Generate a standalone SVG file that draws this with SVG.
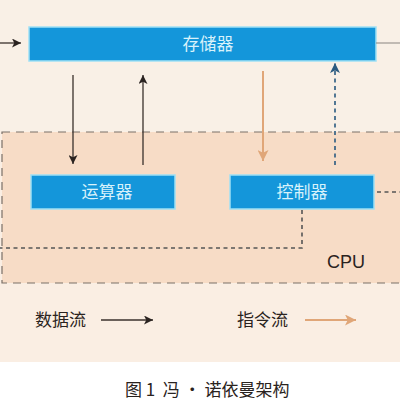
<svg xmlns="http://www.w3.org/2000/svg" width="400" height="400" viewBox="0 0 400 400">
  <defs>
    <marker id="ah-black" viewBox="0 0 10 10" refX="10" refY="5" markerWidth="9" markerHeight="9" markerUnits="userSpaceOnUse" orient="auto">
      <path d="M0,0 L10,5 L0,10 L2.5,5 Z" fill="#2a2320"/>
    </marker>
    <marker id="ah-orange" viewBox="0 0 10 10" refX="10" refY="5" markerWidth="11" markerHeight="11" markerUnits="userSpaceOnUse" orient="auto">
      <path d="M0,0 L10,5 L0,10 L2.5,5 Z" fill="#e0a678"/>
    </marker>
    <marker id="ah-blue" viewBox="0 0 10 10" refX="10" refY="5" markerWidth="10" markerHeight="10" markerUnits="userSpaceOnUse" orient="auto">
      <path d="M0,0 L10,5 L0,10 L2.5,5 Z" fill="#2a5a80"/>
    </marker>
  </defs>
  <style>
    .box { fill: #1496da; stroke: #9fe0f5; stroke-width: 1.5; }
    .boxtxt { font-family: "Noto Sans CJK SC", "Noto Sans", sans-serif; font-size: 17px; fill: #d8f2fb; text-anchor: middle; }
    .lbl { font-family: "Noto Sans CJK SC", "Noto Sans", sans-serif; font-size: 17px; fill: #2a2320; }
    .cpu { font-family: "Liberation Sans", Arial, sans-serif; font-size: 18px; fill: #2a2320; }
    .data { stroke: #3a302c; stroke-width: 1.3; fill: none; }
    .instr { stroke: #e0a678; stroke-width: 2; fill: none; }
    .ctrl { stroke: #555; stroke-width: 1.6; stroke-dasharray: 4 3.5; fill: none; }
    .ctrlblue { stroke: #2a5a80; stroke-width: 1.6; stroke-dasharray: 4 3.5; fill: none; }
  </style>
  <rect x="0" y="0" width="400" height="400" fill="#ffffff"/>
  <rect x="0" y="0" width="400" height="362" fill="#faeee3"/>
  <rect x="0" y="0" width="400" height="132" fill="#f9f0e6"/>
  <g id="cpu">
    <rect x="2" y="132" width="410" height="151" fill="#f7dcc6" stroke="#7a7068" stroke-width="1.2" stroke-dasharray="8 6"/>
    <text class="cpu" x="327" y="268">CPU</text>
  </g>
  <g id="memory">
    <rect class="box" x="29" y="27" width="347" height="34"/>
    <text class="boxtxt" x="208" y="50">存储器</text>
  </g>
  <g id="alu">
    <rect class="box" x="31" y="175" width="144" height="34"/>
    <text class="boxtxt" x="107" y="198">运算器</text>
  </g>
  <g id="controller">
    <rect class="box" x="230" y="175" width="144" height="34"/>
    <text class="boxtxt" x="302" y="198">控制器</text>
  </g>
  <g id="connectors">
    <line class="data" x1="0" y1="43" x2="21" y2="43" marker-end="url(#ah-black)"/>
    <line x1="376" y1="43" x2="400" y2="43" stroke="#8a8580" stroke-width="1"/>
    <line class="data" x1="73" y1="75" x2="73" y2="164" marker-end="url(#ah-black)"/>
    <line class="data" x1="143" y1="165" x2="143" y2="75" marker-end="url(#ah-black)"/>
    <line class="instr" x1="263" y1="71" x2="263" y2="161" marker-end="url(#ah-orange)"/>
    <line class="ctrlblue" x1="335" y1="165" x2="335" y2="63" marker-end="url(#ah-blue)"/>
    <line class="ctrl" x1="377" y1="192" x2="400" y2="192"/>
    <polyline class="ctrl" points="302,210 302,248 0,248"/>
  </g>
  <g id="legend">
    <text class="lbl" x="35" y="326">数据流</text>
    <line class="data" x1="101" y1="320" x2="153" y2="320" marker-end="url(#ah-black)"/>
    <text class="lbl" x="237" y="326">指令流</text>
    <line class="instr" x1="305" y1="320" x2="356" y2="320" marker-end="url(#ah-orange)"/>
  </g>
  <text class="lbl" x="125" y="396" font-size="16" xml:space="preserve" style="white-space:pre">图 1  冯 · 诺依曼架构</text>
</svg>
